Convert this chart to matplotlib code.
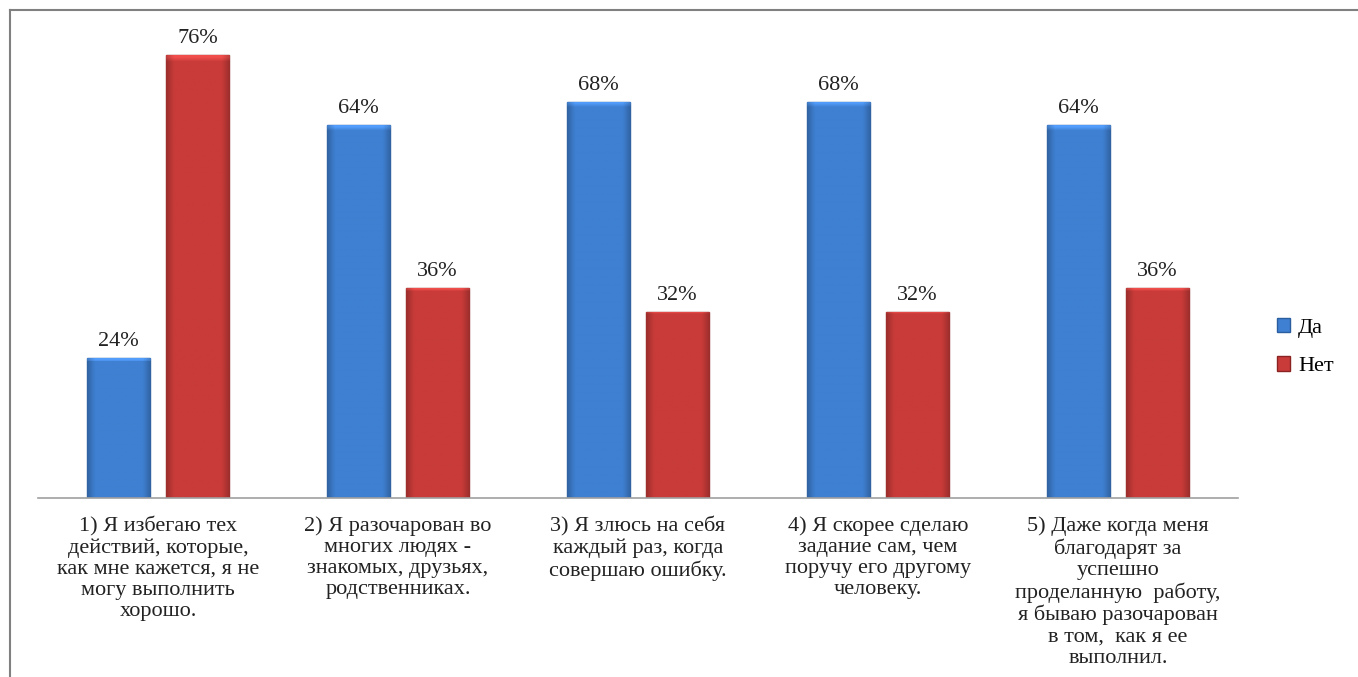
import matplotlib.pyplot as plt
import numpy as np
from matplotlib.lines import Line2D
from matplotlib.colors import to_rgb

plt.rcParams['font.family'] = ['Liberation Serif', 'DejaVu Serif']

categories = [
    "1) Я избегаю тех\nдействий, которые,\nкак мне кажется, я не\nмогу выполнить\nхорошо.",
    "2) Я разочарован во\nмногих людях -\nзнакомых, друзьях,\nродственниках.",
    "3) Я злюсь на себя\nкаждый раз, когда\nсовершаю ошибку.",
    "4) Я скорее сделаю\nзадание сам, чем\nпоручу его другому\nчеловеку.",
    "5) Даже когда меня\nблагодарят за\nуспешно\nпроделанную  работу,\nя бываю разочарован\nв том,  как я ее\nвыполнил.",
]
da = [24, 64, 68, 68, 64]
net = [76, 36, 32, 32, 36]

BLUE = '#3F80D2'
RED = '#C83B39'

W, H = 1358, 677
fig = plt.figure(figsize=(W / 100, H / 100), dpi=100)

# axes placed in pixel terms of the reference
left, right, base, top = 38, 1238, 498, 32
ax = fig.add_axes([left / W, 1 - base / H, (right - left) / W, (base - top) / H])

x = np.arange(len(categories))
bw = 0.265
off = 0.165
b1 = ax.bar(x - off, da, bw, color=BLUE, edgecolor='#2B5E9F', linewidth=1.0, label='Да', zorder=2)
b2 = ax.bar(x + off, net, bw, color=RED, edgecolor='#8A2321', linewidth=1.0, label='Нет', zorder=2)


def shade(bars, base_col):
    # bevel-like look: darker sides, light band at the top
    c = np.array(to_rgb(base_col))
    n = 60
    t = np.linspace(0, 1, n)
    side = np.clip(np.minimum(t, 1 - t) / 0.12, 0, 1)
    row = 0.78 + 0.22 * side
    for p in bars.patches:
        x0, w, h = p.get_x(), p.get_width(), p.get_height()
        ny = 100
        img = np.ones((ny, n, 3)) * c
        img *= row[None, :, None]
        top_px = max(1, int(ny * 3.5 / (h * 5.83)))
        img[:top_px] = np.clip(img[:top_px] * 1.15 + 0.04, 0, 1)
        im = ax.imshow(img, extent=[x0, x0 + w, 0, h], aspect='auto',
                       interpolation='bilinear', zorder=2.5)
        im.set_clip_path(p)


shade(b1, BLUE)
shade(b2, RED)

for bars in (b1, b2):
    ax.bar_label(bars, labels=[f"{v}%" for v in bars.datavalues], padding=5,
                 fontsize=16, color='#222222')

ax.set_xlim(-0.5, len(categories) - 0.5)
ax.set_ylim(0, 80)
ax.set_xticks(x)
ax.set_xticklabels(categories, fontsize=16, linespacing=1.15, color='#222222')
ax.tick_params(axis='x', length=0, pad=13)
ax.set_yticks([])
for s in ['top', 'right', 'left']:
    ax.spines[s].set_visible(False)
ax.spines['bottom'].set_color('#A0A0A0')
ax.spines['bottom'].set_linewidth(1.2)

fig.legend(handles=[b1, b2], labels=['Да', 'Нет'], loc='center left',
           bbox_to_anchor=(1257 / W, 1 - 347 / H), frameon=False, fontsize=16,
           handlelength=0.6, handleheight=0.6, handletextpad=0.35, labelspacing=0.85)

# outer frame (top and left edges visible)
fig.add_artist(Line2D([10 / W, 1], [1 - 9.5 / H, 1 - 9.5 / H], color='#808080', lw=1.5))
fig.add_artist(Line2D([10 / W, 10 / W], [0, 1 - 9.5 / H], color='#808080', lw=1.5))

fig.savefig('out.png', dpi=100)
